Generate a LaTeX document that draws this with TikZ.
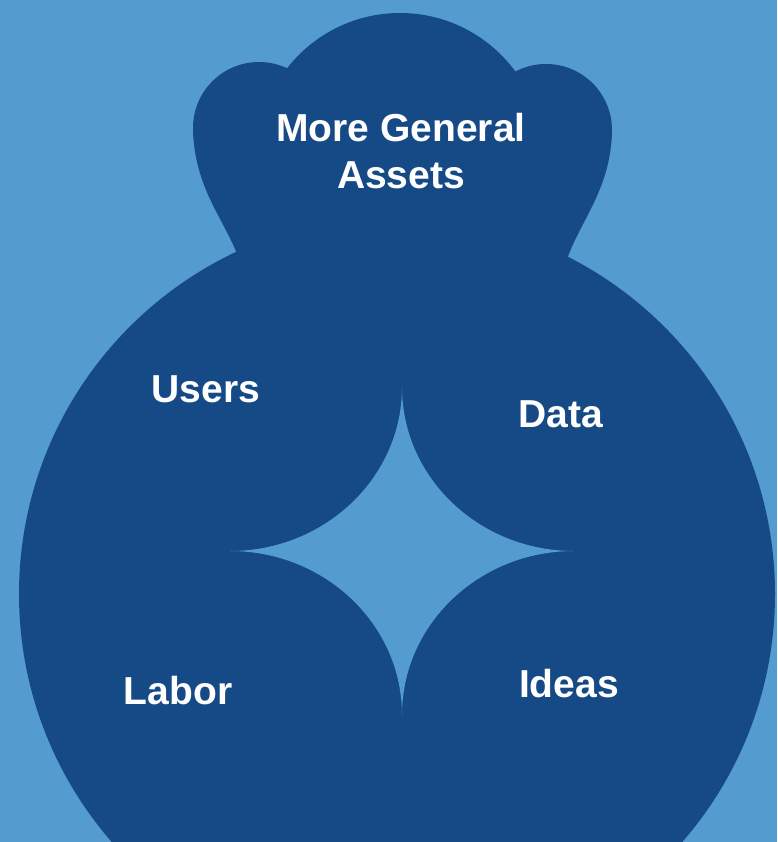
\documentclass[tikz,border=0pt]{standalone}
\usepackage{fontspec}
\setmainfont{Liberation Sans}
\usepackage{tikz}
\usetikzlibrary{positioning}
\usepackage{xcolor}

\definecolor{bgblue}{HTML}{549BCF}
\definecolor{deepblue}{HTML}{164A86}

\tikzset{
  lbl/.style={text=white, inner sep=0pt, font=\bfseries\fontsize{39}{47}\selectfont},
}

\begin{document}
\begin{tikzpicture}[x=1pt,y=-1pt]
\useasboundingbox (0,0) rectangle (777,842);
\clip (0,0) rectangle (777,842);
\fill[bgblue] (0,0) rectangle (777,842);
% body
\fill[deepblue] (397,594) circle(378);
% head with ears
\fill[deepblue] (400,156) circle(143);
\fill[deepblue] (259,128) circle(66);
\fill[deepblue] (546,130) circle(66);
\fill[deepblue] (193,128)--(259,128)--(546,130)--(612,130)
  .. controls (611,190) and (580,220) .. (566,262)--(240,262)
  .. controls (226,220) and (194,190) .. (193,128)--cycle;
% four point star in the middle
\fill[bgblue] (402,387) arc[start angle=0,end angle=90,x radius=172,y radius=164]
  arc[start angle=-90,end angle=0,x radius=172,y radius=164]
  arc[start angle=180,end angle=270,x radius=172,y radius=164]
  arc[start angle=90,end angle=180,x radius=172,y radius=164]--cycle;
\node[lbl, align=center] (assets) at (401,151) {More General\\Assets};
\node[lbl, anchor=base] (users) at (206,402) {Users};
\node[lbl, anchor=base] (data) at (561,427) {Data};
\node[lbl, anchor=base] (labor) at (178,704) {Labor};
\node[lbl, anchor=base] (ideas) at (569,697) {Ideas};
\end{tikzpicture}
\end{document}
